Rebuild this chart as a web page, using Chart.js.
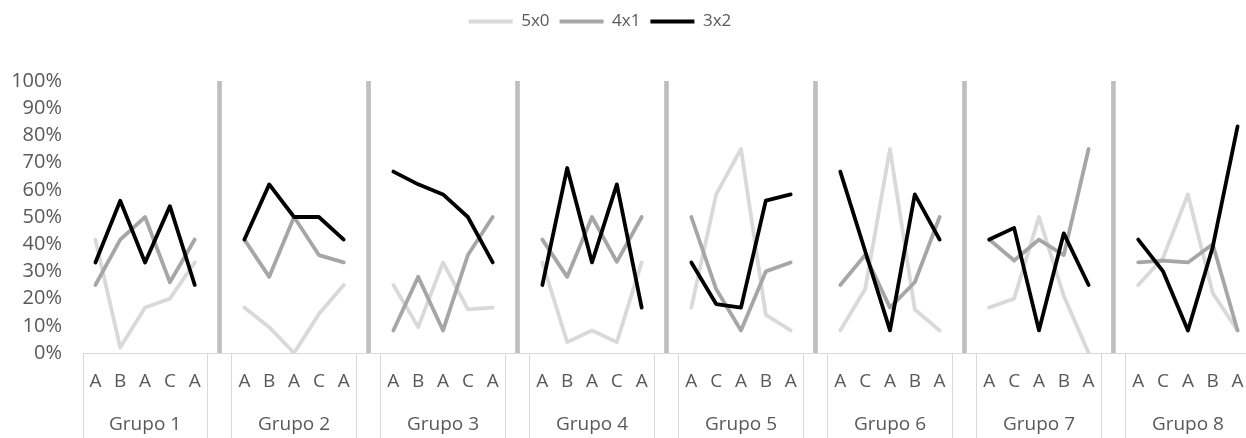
<!DOCTYPE html>
<html>
<head>
<meta charset="utf-8">
<script src="https://cdn.jsdelivr.net/npm/chart.js@4"></script>
<style>
  html, body { margin: 0; padding: 0; background: #ffffff; overflow: hidden; }
  #wrap { width: 1250px; height: 438px; }
</style>
</head>
<body>
<div id="wrap"><canvas id="chart" width="1250" height="438"></canvas></div>
<script>
// Groups and the order of conditions inside each group
const groupNames = ['Grupo 1', 'Grupo 2', 'Grupo 3', 'Grupo 4', 'Grupo 5', 'Grupo 6', 'Grupo 7', 'Grupo 8'];
const groupLetters = [
  ['A', 'B', 'A', 'C', 'A'],
  ['A', 'B', 'A', 'C', 'A'],
  ['A', 'B', 'A', 'C', 'A'],
  ['A', 'B', 'A', 'C', 'A'],
  ['A', 'C', 'A', 'B', 'A'],
  ['A', 'C', 'A', 'B', 'A'],
  ['A', 'C', 'A', 'B', 'A'],
  ['A', 'C', 'A', 'B', 'A']
];

// Percentages per group (five conditions each)
const values5x0 = [
  [41.7, 2, 16.7, 20, 33.3],
  [16.7, 9.5, 0, 14.3, 25],
  [25, 9.5, 33.3, 16, 16.7],
  [33.3, 4, 8.3, 4, 33.3],
  [16.7, 58.3, 75, 14, 8.3],
  [8.3, 23.5, 75, 16, 8.3],
  [16.7, 20, 50, 21, 0],
  [25, 35, 58.3, 22, 8.3]
];
const values4x1 = [
  [25, 41.7, 50, 26, 41.7],
  [41.7, 28, 50, 36, 33.3],
  [8.3, 28, 8.3, 36, 50],
  [41.7, 28, 50, 33.5, 50],
  [50, 23.5, 8.3, 30, 33.3],
  [25, 36, 16.7, 26, 50],
  [41.7, 34, 41.7, 36, 75],
  [33.3, 34, 33.3, 40, 8.3]
];
const values3x2 = [
  [33.3, 56, 33.3, 54, 25],
  [41.7, 62, 50, 50, 41.7],
  [66.7, 62, 58.3, 50, 33.3],
  [25, 68, 33.3, 62, 16.7],
  [33.3, 18, 16.7, 56, 58.3],
  [66.7, 37.5, 8.3, 58.3, 41.7],
  [41.7, 46, 8.3, 44, 25],
  [41.7, 30, 8.3, 39, 83.3]
];
const yTicks = [0, 10, 20, 30, 40, 50, 60, 70, 80, 90, 100];
const separatorValue = 100;

// Flatten the groups into one category axis with an empty slot between groups
const labels = [];
const flat5x0 = [], flat4x1 = [], flat3x2 = [], separators = [];
groupNames.forEach((name, g) => {
  groupLetters[g].forEach((letter, j) => {
    labels.push([letter, j === 2 ? name : '']);
    flat5x0.push(values5x0[g][j]);
    flat4x1.push(values4x1[g][j]);
    flat3x2.push(values3x2[g][j]);
    separators.push(null);
  });
  if (g < groupNames.length - 1) {
    labels.push(['', '']);
    flat5x0.push(null);
    flat4x1.push(null);
    flat3x2.push(null);
    separators.push(separatorValue);
  }
});

const FONT = "'Open Sans', 'Noto Sans', sans-serif";
const TEXT = '#595959';

function lineSet(label, data, color, order) {
  return {
    type: 'line', label, data, order,
    borderColor: color, backgroundColor: color,
    borderWidth: 3.8, pointRadius: 0, pointHoverRadius: 0,
    pointStyle: 'line', tension: 0, spanGaps: false,
    borderJoinStyle: 'round', borderCapStyle: 'round'
  };
}

// Extra room under the legend, and legend nudged slightly left
const legendSpacing = {
  id: 'legendSpacing',
  afterInit(chart) {
    const legend = chart.legend;
    const fit = legend.fit;
    legend.fit = function () { fit.call(this); this.height += 41; };
  },
  afterLayout(chart) {
    chart.legend.right -= 50;
  }
};

new Chart(document.getElementById('chart'), {
  type: 'bar',
  plugins: [legendSpacing],
  data: {
    labels,
    datasets: [
      lineSet('5x0', flat5x0, '#d9d9d9', 2),
      lineSet('4x1', flat4x1, '#a6a6a6', 1),
      lineSet('3x2', flat3x2, '#000000', 0),
      {
        type: 'bar', label: 'sep', data: separators, order: 5,
        backgroundColor: '#bfbfbf', borderWidth: 0, barThickness: 4
      }
    ]
  },
  options: {
    responsive: false,
    animation: false,
    devicePixelRatio: 1,
    layout: { padding: { top: 3, left: 0, right: 0, bottom: 0 } },
    plugins: {
      tooltip: { enabled: false },
      legend: {
        position: 'top',
        labels: {
          usePointStyle: true,
          pointStyleWidth: 44,
          padding: 10,
          color: TEXT,
          font: { family: FONT, size: 17 },
          filter: (item) => item.text !== 'sep',
          sort: (a, b) => a.datasetIndex - b.datasetIndex
        }
      }
    },
    scales: {
      x: {
        type: 'category',
        offset: true,
        afterFit: (s) => { s.height = 85; },
        border: { display: true, color: '#d9d9d9', width: 1 },
        grid: {
          offset: true,
          drawOnChartArea: false,
          drawTicks: true,
          tickLength: 85,
          lineWidth: 1,
          color: (ctx) => {
            const i = ctx.index;
            if (i === undefined) return '#d9d9d9';
            return (i % 6 === 0 || i % 6 === 5) ? '#d9d9d9' : 'rgba(0,0,0,0)';
          }
        },
        ticks: {
          autoSkip: false,
          maxRotation: 0,
          minRotation: 0,
          padding: -77.5,
          color: TEXT,
          font: { family: FONT, size: 19, lineHeight: '43px' }
        }
      },
      y: {
        min: 0,
        max: 100,
        afterFit: (s) => { s.width = 83; },
        afterBuildTicks: (s) => { s.ticks = yTicks.map(v => ({ value: v })); },
        border: { display: false },
        grid: { display: false, drawTicks: false },
        ticks: {
          padding: 21,
          color: TEXT,
          font: { family: FONT, size: 20 },
          callback: (v) => v + '%'
        }
      }
    }
  }
});
</script>
</body>
</html>
